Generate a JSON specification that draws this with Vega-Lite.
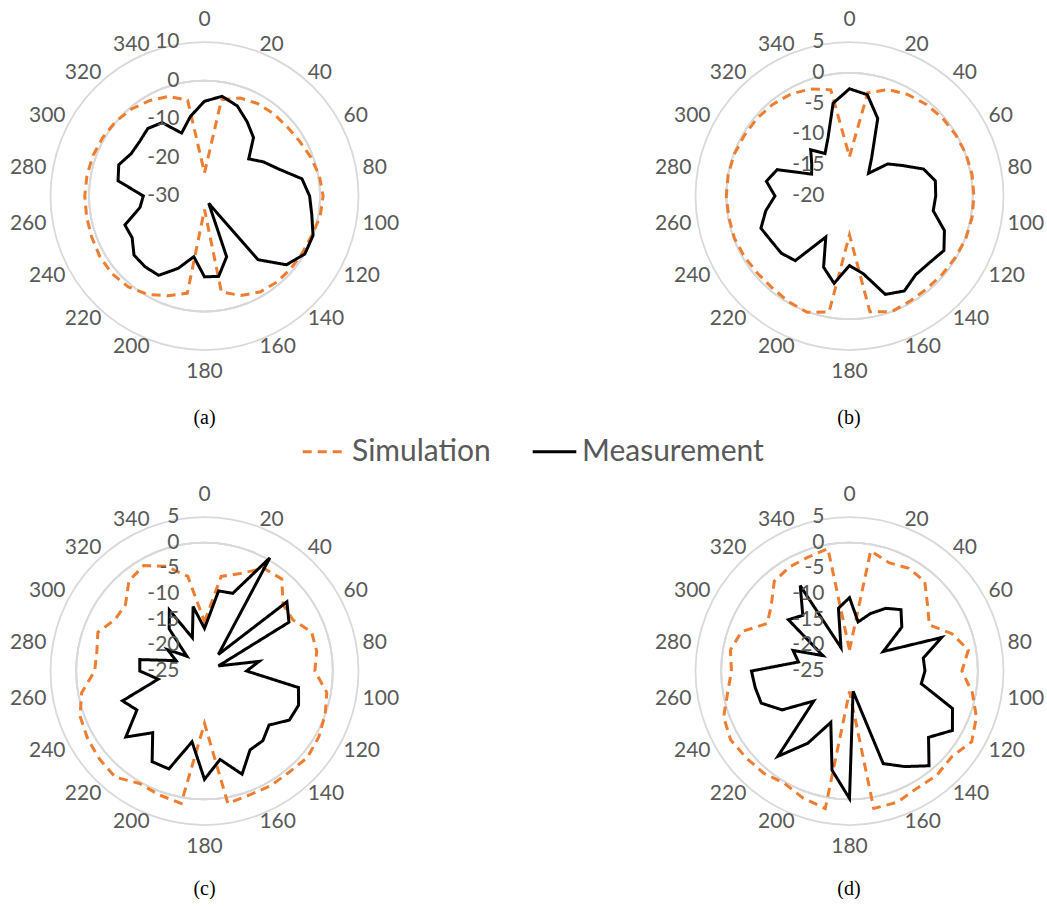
{
  "$schema": "https://vega.github.io/schema/vega-lite/v6.json",
  "padding": 0,
  "background": "white",
  "config": {"view": {"stroke": null}, "text": {"font": "Lato", "fontSize": 21, "color": "#595959"}},
  "datasets": {
    "rings": [
      {"p": "a", "level": -30}, {"p": "a", "level": -20}, {"p": "a", "level": -10}, {"p": "a", "level": 0}, {"p": "a", "level": 10},
      {"p": "b", "level": -20}, {"p": "b", "level": -15}, {"p": "b", "level": -10}, {"p": "b", "level": -5}, {"p": "b", "level": 0}, {"p": "b", "level": 5},
      {"p": "c", "level": -25}, {"p": "c", "level": -20}, {"p": "c", "level": -15}, {"p": "c", "level": -10}, {"p": "c", "level": -5}, {"p": "c", "level": 0}, {"p": "c", "level": 5},
      {"p": "d", "level": -25}, {"p": "d", "level": -20}, {"p": "d", "level": -15}, {"p": "d", "level": -10}, {"p": "d", "level": -5}, {"p": "d", "level": 0}, {"p": "d", "level": 5}
    ],
    "angles": [
      {"ang": 0}, {"ang": 20}, {"ang": 40}, {"ang": 60}, {"ang": 80}, {"ang": 100}, {"ang": 120}, {"ang": 140}, {"ang": 160},
      {"ang": 180}, {"ang": 200}, {"ang": 220}, {"ang": 240}, {"ang": 260}, {"ang": 280}, {"ang": 300}, {"ang": 320}, {"ang": 340}
    ],
    "pattern": [
      {"p":"a","ang":0,"Simulation":-24,"Measurement":-5.4},
      {"p":"a","ang":10,"Simulation":-4.6,"Measurement":-3.7},
      {"p":"a","ang":20,"Simulation":-2.9,"Measurement":-5.1},
      {"p":"a","ang":30,"Simulation":-2.3,"Measurement":-7.8},
      {"p":"a","ang":40,"Simulation":-2.1,"Measurement":-10.2},
      {"p":"a","ang":50,"Simulation":-2.0,"Measurement":-15.0},
      {"p":"a","ang":60,"Simulation":-1.5,"Measurement":-12.3},
      {"p":"a","ang":70,"Simulation":-0.6,"Measurement":-9.5},
      {"p":"a","ang":80,"Simulation":0.3,"Measurement":-4.3},
      {"p":"a","ang":90,"Simulation":0.8,"Measurement":-2.7},
      {"p":"a","ang":100,"Simulation":0.5,"Measurement":-1.7},
      {"p":"a","ang":110,"Simulation":-0.3,"Measurement":0.0},
      {"p":"a","ang":120,"Simulation":-0.6,"Measurement":0.1},
      {"p":"a","ang":130,"Simulation":-0.7,"Measurement":-2.2},
      {"p":"a","ang":140,"Simulation":-0.8,"Measurement":-8.4},
      {"p":"a","ang":150,"Simulation":-1.2,"Measurement":-27.8},
      {"p":"a","ang":160,"Simulation":-2.5,"Measurement":-13.2},
      {"p":"a","ang":170,"Simulation":-4.7,"Measurement":-8.8},
      {"p":"a","ang":180,"Simulation":-26.5,"Measurement":-9.0},
      {"p":"a","ang":190,"Simulation":-4.4,"Measurement":-14.0},
      {"p":"a","ang":200,"Simulation":-2.4,"Measurement":-10.0},
      {"p":"a","ang":210,"Simulation":-0.5,"Measurement":-6.2},
      {"p":"a","ang":220,"Simulation":0.8,"Measurement":-6.0},
      {"p":"a","ang":230,"Simulation":1.4,"Measurement":-6.1},
      {"p":"a","ang":240,"Simulation":1.4,"Measurement":-8.3},
      {"p":"a","ang":250,"Simulation":1.2,"Measurement":-8.0},
      {"p":"a","ang":260,"Simulation":1.1,"Measurement":-13.0},
      {"p":"a","ang":270,"Simulation":1.1,"Measurement":-14.1},
      {"p":"a","ang":280,"Simulation":1.0,"Measurement":-7.2},
      {"p":"a","ang":290,"Simulation":0.8,"Measurement":-6.3},
      {"p":"a","ang":300,"Simulation":0.5,"Measurement":-8.0},
      {"p":"a","ang":310,"Simulation":0.1,"Measurement":-8.0},
      {"p":"a","ang":320,"Simulation":-0.5,"Measurement":-7.1},
      {"p":"a","ang":330,"Simulation":-1.4,"Measurement":-8.0},
      {"p":"a","ang":340,"Simulation":-2.5,"Measurement":-12.6},
      {"p":"a","ang":350,"Simulation":-4.7,"Measurement":-9.0},

      {"p":"b","ang":0,"Simulation":-13.6,"Measurement":-2.6},
      {"p":"b","ang":10,"Simulation":-3.0,"Measurement":-3.3},
      {"p":"b","ang":20,"Simulation":-1.6,"Measurement":-6.6},
      {"p":"b","ang":30,"Simulation":-1.0,"Measurement":-12.8},
      {"p":"b","ang":40,"Simulation":-0.6,"Measurement":-15.2},
      {"p":"b","ang":50,"Simulation":-0.3,"Measurement":-11.9},
      {"p":"b","ang":60,"Simulation":-0.1,"Measurement":-10.1},
      {"p":"b","ang":70,"Simulation":0.1,"Measurement":-7.2},
      {"p":"b","ang":80,"Simulation":0.2,"Measurement":-5.85},
      {"p":"b","ang":90,"Simulation":0.2,"Measurement":-6.0},
      {"p":"b","ang":100,"Simulation":0.2,"Measurement":-6.2},
      {"p":"b","ang":110,"Simulation":0.1,"Measurement":-3.6},
      {"p":"b","ang":120,"Simulation":-0.1,"Measurement":-2.3},
      {"p":"b","ang":130,"Simulation":-0.3,"Measurement":-3.1},
      {"p":"b","ang":140,"Simulation":-0.4,"Measurement":-3.3},
      {"p":"b","ang":150,"Simulation":-0.3,"Measurement":-2.2},
      {"p":"b","ang":160,"Simulation":0.0,"Measurement":-3.0},
      {"p":"b","ang":170,"Simulation":-0.9,"Measurement":-7.2},
      {"p":"b","ang":180,"Simulation":-13.7,"Measurement":-8.7},
      {"p":"b","ang":190,"Simulation":-0.9,"Measurement":-5.6},
      {"p":"b","ang":200,"Simulation":0.1,"Measurement":-7.7},
      {"p":"b","ang":210,"Simulation":-0.2,"Measurement":-12.3},
      {"p":"b","ang":220,"Simulation":-0.5,"Measurement":-6.3},
      {"p":"b","ang":230,"Simulation":-0.5,"Measurement":-5.55},
      {"p":"b","ang":240,"Simulation":-0.3,"Measurement":-5.35},
      {"p":"b","ang":250,"Simulation":-0.1,"Measurement":-4.7},
      {"p":"b","ang":260,"Simulation":-0.1,"Measurement":-6.2},
      {"p":"b","ang":270,"Simulation":0.0,"Measurement":-7.9},
      {"p":"b","ang":280,"Simulation":0.0,"Measurement":-6.3},
      {"p":"b","ang":290,"Simulation":-0.1,"Measurement":-7.5},
      {"p":"b","ang":300,"Simulation":-0.3,"Measurement":-12.9},
      {"p":"b","ang":310,"Simulation":-0.4,"Measurement":-12.0},
      {"p":"b","ang":320,"Simulation":-0.6,"Measurement":-10.2},
      {"p":"b","ang":330,"Simulation":-0.9,"Measurement":-12.05},
      {"p":"b","ang":340,"Simulation":-1.5,"Measurement":-9.85},
      {"p":"b","ang":350,"Simulation":-2.5,"Measurement":-4.7},

      {"p":"c","ang":0,"Simulation":-15.4,"Measurement":-16.7},
      {"p":"c","ang":10,"Simulation":-6.3,"Measurement":-9.15},
      {"p":"c","ang":20,"Simulation":-4.8,"Measurement":-8.9},
      {"p":"c","ang":30,"Simulation":-1.9,"Measurement":0.45},
      {"p":"c","ang":40,"Simulation":-1.6,"Measurement":-20.8},
      {"p":"c","ang":50,"Simulation":-5.0,"Measurement":-4.05},
      {"p":"c","ang":60,"Simulation":-5.1,"Measurement":-6.0},
      {"p":"c","ang":70,"Simulation":-2.8,"Measurement":-22.1},
      {"p":"c","ang":80,"Simulation":-2.8,"Measurement":-14.2},
      {"p":"c","ang":90,"Simulation":-3.5,"Measurement":-16.8},
      {"p":"c","ang":100,"Simulation":-0.8,"Measurement":-6.4},
      {"p":"c","ang":110,"Simulation":0.0,"Measurement":-5.5},
      {"p":"c","ang":120,"Simulation":0.7,"Measurement":-5.9},
      {"p":"c","ang":130,"Simulation":1.2,"Measurement":-8.6},
      {"p":"c","ang":140,"Simulation":0.7,"Measurement":-7.3},
      {"p":"c","ang":150,"Simulation":0.8,"Measurement":-7.25},
      {"p":"c","ang":160,"Simulation":0.7,"Measurement":-3.6},
      {"p":"c","ang":170,"Simulation":1.2,"Measurement":-7.5},
      {"p":"c","ang":180,"Simulation":-14.8,"Measurement":-3.9},
      {"p":"c","ang":190,"Simulation":1.2,"Measurement":-11.0},
      {"p":"c","ang":200,"Simulation":0.7,"Measurement":-4.7},
      {"p":"c","ang":210,"Simulation":0.3,"Measurement":-4.6},
      {"p":"c","ang":220,"Simulation":2.0,"Measurement":-9.3},
      {"p":"c","ang":230,"Simulation":1.7,"Measurement":-5.0},
      {"p":"c","ang":240,"Simulation":1.3,"Measurement":-9.8},
      {"p":"c","ang":250,"Simulation":0.8,"Measurement":-8.0},
      {"p":"c","ang":260,"Simulation":-0.7,"Measurement":-15.85},
      {"p":"c","ang":270,"Simulation":-3.6,"Measurement":-12.4},
      {"p":"c","ang":280,"Simulation":-3.7,"Measurement":-12.2},
      {"p":"c","ang":290,"Simulation":-2.9,"Measurement":-19.1},
      {"p":"c","ang":300,"Simulation":-4.9,"Measurement":-16.7},
      {"p":"c","ang":310,"Simulation":-4.9,"Measurement":-20.5},
      {"p":"c","ang":320,"Simulation":-2.1,"Measurement":-14.3},
      {"p":"c","ang":330,"Simulation":-1.3,"Measurement":-11.3},
      {"p":"c","ang":340,"Simulation":-3.3,"Measurement":-18.1},
      {"p":"c","ang":350,"Simulation":-6.3,"Measurement":-12.25},

      {"p":"d","ang":0,"Simulation":-20.9,"Measurement":-10.7},
      {"p":"d","ang":10,"Simulation":-1.25,"Measurement":-15.3},
      {"p":"d","ang":20,"Simulation":-2.55,"Measurement":-13.1},
      {"p":"d","ang":30,"Simulation":-1.9,"Measurement":-10.9},
      {"p":"d","ang":40,"Simulation":-2.2,"Measurement":-9.4},
      {"p":"d","ang":50,"Simulation":-5.15,"Measurement":-11.7},
      {"p":"d","ang":60,"Simulation":-7.05,"Measurement":-17.4},
      {"p":"d","ang":70,"Simulation":-3.75,"Measurement":-5.9},
      {"p":"d","ang":80,"Simulation":-1.5,"Measurement":-10.4},
      {"p":"d","ang":90,"Simulation":-3.1,"Measurement":-10.3},
      {"p":"d","ang":100,"Simulation":-0.7,"Measurement":-10.8},
      {"p":"d","ang":110,"Simulation":1.3,"Measurement":-3.65},
      {"p":"d","ang":120,"Simulation":2.5,"Measurement":-1.85},
      {"p":"d","ang":130,"Simulation":1.0,"Measurement":-4.9},
      {"p":"d","ang":140,"Simulation":1.5,"Measurement":-0.9},
      {"p":"d","ang":150,"Simulation":1.35,"Measurement":-3.5},
      {"p":"d","ang":160,"Simulation":2.2,"Measurement":-5.8},
      {"p":"d","ang":170,"Simulation":2.2,"Measurement":-21.0},
      {"p":"d","ang":180,"Simulation":-21.0,"Measurement":-0.15},
      {"p":"d","ang":190,"Simulation":2.2,"Measurement":-5.4},
      {"p":"d","ang":200,"Simulation":1.35,"Measurement":-14.35},
      {"p":"d","ang":210,"Simulation":0.3,"Measurement":-8.75},
      {"p":"d","ang":220,"Simulation":1.0,"Measurement":-3.3},
      {"p":"d","ang":230,"Simulation":1.3,"Measurement":-15.9},
      {"p":"d","ang":240,"Simulation":1.75,"Measurement":-9.85},
      {"p":"d","ang":250,"Simulation":1.1,"Measurement":-6.7},
      {"p":"d","ang":260,"Simulation":-0.9,"Measurement":-6.35},
      {"p":"d","ang":270,"Simulation":-2.0,"Measurement":-5.9},
      {"p":"d","ang":280,"Simulation":-1.45,"Measurement":-14.9},
      {"p":"d","ang":290,"Simulation":-2.6,"Measurement":-13.3},
      {"p":"d","ang":300,"Simulation":-6.5,"Measurement":-19.0},
      {"p":"d","ang":310,"Simulation":-5.1,"Measurement":-9.45},
      {"p":"d","ang":320,"Simulation":-2.2,"Measurement":-10.85},
      {"p":"d","ang":330,"Simulation":-1.6,"Measurement":-5.8},
      {"p":"d","ang":340,"Simulation":-1.4,"Measurement":-20.15},
      {"p":"d","ang":350,"Simulation":-0.8,"Measurement":-12.6}
    ]
  },
  "columns": 2,
  "spacing": {"row": 83, "column": 236},
  "bounds": "flush",
  "resolve": {"scale": {"radius": "independent", "theta": "independent", "x": "independent", "y": "independent"}},
  "concat": [
    {
      "width": 409, "height": 392,
      "title": {"text": "(a)", "orient": "bottom", "offset": 16, "font": "Liberation Serif", "fontSize": 20, "fontWeight": "normal", "color": "#000000", "anchor": "middle"},
      "layer": [
        {"data": {"name": "rings"}, "transform": [{"filter": "datum.p == 'a'"}],
         "mark": {"type": "arc", "filled": false, "stroke": "#d9d9d9", "strokeWidth": 1.75},
         "encoding": {
           "x": {"datum": 0, "type": "quantitative", "scale": {"domain": [-53.117, 53.117], "nice": false, "zero": false}, "axis": null},
           "y": {"datum": 0, "type": "quantitative", "scale": {"domain": [-50.909, 50.909], "nice": false, "zero": false}, "axis": null},
           "radius": {"field": "level", "type": "quantitative", "scale": {"type": "linear", "domain": [-30, 10], "range": [0, 154], "zero": false, "nice": false}}}},
        {"data": {"name": "angles"}, "transform": [{"filter": "datum.ang > 0 && datum.ang < 180"}],
         "mark": {"type": "text", "radius": 160.5, "align": "left", "baseline": "middle"},
         "encoding": {"x": {"datum": 0, "type": "quantitative"}, "y": {"datum": 0, "type": "quantitative"},
           "theta": {"field": "ang", "type": "quantitative", "stack": null, "scale": {"domain": [0, 360], "range": [0, 6.283185307179586]}},
           "text": {"field": "ang", "type": "nominal"}}},
        {"data": {"name": "angles"}, "transform": [{"filter": "datum.ang > 180"}],
         "mark": {"type": "text", "radius": 160.5, "align": "right", "baseline": "middle"},
         "encoding": {"x": {"datum": 0, "type": "quantitative"}, "y": {"datum": 0, "type": "quantitative"},
           "theta": {"field": "ang", "type": "quantitative", "stack": null, "scale": {"domain": [0, 360], "range": [0, 6.283185307179586]}},
           "text": {"field": "ang", "type": "nominal"}}},
        {"data": {"name": "angles"}, "transform": [{"filter": "datum.ang == 0 || datum.ang == 180"}],
         "mark": {"type": "text", "radius": 176, "align": "center", "baseline": "middle"},
         "encoding": {"x": {"datum": 0, "type": "quantitative"}, "y": {"datum": 0, "type": "quantitative"},
           "theta": {"field": "ang", "type": "quantitative", "stack": null, "scale": {"domain": [0, 360], "range": [0, 6.283185307179586]}},
           "text": {"field": "ang", "type": "nominal"}}},
        {"data": {"name": "pattern"},
         "transform": [
           {"filter": "datum.p == 'a'"},
           {"fold": ["Simulation", "Measurement"], "as": ["s", "dB"]},
           {"calculate": "(datum.dB + 30) * sin(datum.ang * PI / 180)", "as": "px"},
           {"calculate": "(datum.dB + 30) * cos(datum.ang * PI / 180)", "as": "py"}],
         "mark": {"type": "line", "interpolate": "linear-closed", "strokeWidth": 3},
         "encoding": {
           "x": {"field": "px", "type": "quantitative"},
           "y": {"field": "py", "type": "quantitative"},
           "order": {"field": "ang", "type": "quantitative"},
           "color": {"field": "s", "type": "nominal", "scale": {"domain": ["Simulation", "Measurement"], "range": ["#ed7d31", "#000000"]},
             "legend": {"orient": "none", "legendX": 301, "legendY": 428, "direction": "horizontal", "title": null, "symbolType": "stroke", "symbolSize": 1900, "symbolStrokeWidth": 3, "labelFont": "Lato", "labelFontSize": 30, "labelColor": "#595959", "labelOffset": 4, "columnPadding": 35, "padding": 0, "labelLimit": 0}},
           "strokeDash": {"field": "s", "type": "nominal", "scale": {"domain": ["Simulation", "Measurement"], "range": [[9, 6], [1, 0]]},
             "legend": {"orient": "none", "legendX": 301, "legendY": 428, "direction": "horizontal", "title": null, "symbolType": "stroke", "symbolSize": 1900, "symbolStrokeWidth": 3, "labelFont": "Lato", "labelFontSize": 30, "labelColor": "#595959", "labelOffset": 4, "columnPadding": 35, "padding": 0, "labelLimit": 0}}}},
        {"data": {"name": "rings"}, "transform": [{"filter": "datum.p == 'a'"}],
         "mark": {"type": "text", "theta": 0, "align": "right", "baseline": "middle", "dx": -25},
         "encoding": {"x": {"datum": 0, "type": "quantitative"}, "y": {"datum": 0, "type": "quantitative"},
           "radius": {"field": "level", "type": "quantitative"},
           "text": {"field": "level", "type": "nominal"}}}
      ]
    },
    {
      "width": 402, "height": 392,
      "title": {"text": "(b)", "orient": "bottom", "offset": 16, "dx": 3, "font": "Liberation Serif", "fontSize": 20, "fontWeight": "normal", "color": "#000000", "anchor": "middle"},
      "layer": [
        {"data": {"name": "rings"}, "transform": [{"filter": "datum.p == 'b'"}],
         "mark": {"type": "arc", "filled": false, "stroke": "#d9d9d9", "strokeWidth": 1.75},
         "encoding": {
           "x": {"datum": 0, "type": "quantitative", "scale": {"domain": [-33.198, 32.062], "nice": false, "zero": false}, "axis": null},
           "y": {"datum": 0, "type": "quantitative", "scale": {"domain": [-31.818, 31.818], "nice": false, "zero": false}, "axis": null},
           "radius": {"field": "level", "type": "quantitative", "scale": {"type": "linear", "domain": [-20, 5], "range": [0, 154], "zero": false, "nice": false}}}},
        {"data": {"name": "angles"}, "transform": [{"filter": "datum.ang > 0 && datum.ang < 180"}],
         "mark": {"type": "text", "radius": 160.5, "align": "left", "baseline": "middle"},
         "encoding": {"x": {"datum": 0, "type": "quantitative"}, "y": {"datum": 0, "type": "quantitative"},
           "theta": {"field": "ang", "type": "quantitative", "stack": null, "scale": {"domain": [0, 360], "range": [0, 6.283185307179586]}},
           "text": {"field": "ang", "type": "nominal"}}},
        {"data": {"name": "angles"}, "transform": [{"filter": "datum.ang > 180"}],
         "mark": {"type": "text", "radius": 160.5, "align": "right", "baseline": "middle"},
         "encoding": {"x": {"datum": 0, "type": "quantitative"}, "y": {"datum": 0, "type": "quantitative"},
           "theta": {"field": "ang", "type": "quantitative", "stack": null, "scale": {"domain": [0, 360], "range": [0, 6.283185307179586]}},
           "text": {"field": "ang", "type": "nominal"}}},
        {"data": {"name": "angles"}, "transform": [{"filter": "datum.ang == 0 || datum.ang == 180"}],
         "mark": {"type": "text", "radius": 176, "align": "center", "baseline": "middle"},
         "encoding": {"x": {"datum": 0, "type": "quantitative"}, "y": {"datum": 0, "type": "quantitative"},
           "theta": {"field": "ang", "type": "quantitative", "stack": null, "scale": {"domain": [0, 360], "range": [0, 6.283185307179586]}},
           "text": {"field": "ang", "type": "nominal"}}},
        {"data": {"name": "pattern"},
         "transform": [
           {"filter": "datum.p == 'b'"},
           {"fold": ["Simulation", "Measurement"], "as": ["s", "dB"]},
           {"calculate": "(datum.dB + 20) * sin(datum.ang * PI / 180)", "as": "px"},
           {"calculate": "(datum.dB + 20) * cos(datum.ang * PI / 180)", "as": "py"}],
         "mark": {"type": "line", "interpolate": "linear-closed", "strokeWidth": 3},
         "encoding": {
           "x": {"field": "px", "type": "quantitative"},
           "y": {"field": "py", "type": "quantitative"},
           "order": {"field": "ang", "type": "quantitative"},
           "color": {"field": "s", "type": "nominal", "scale": {"domain": ["Simulation", "Measurement"], "range": ["#ed7d31", "#000000"]},
             "legend": {"orient": "none", "legendX": 301, "legendY": 428, "direction": "horizontal", "title": null, "symbolType": "stroke", "symbolSize": 1900, "symbolStrokeWidth": 3, "labelFont": "Lato", "labelFontSize": 30, "labelColor": "#595959", "labelOffset": 4, "columnPadding": 35, "padding": 0, "labelLimit": 0}},
           "strokeDash": {"field": "s", "type": "nominal", "scale": {"domain": ["Simulation", "Measurement"], "range": [[9, 6], [1, 0]]},
             "legend": {"orient": "none", "legendX": 301, "legendY": 428, "direction": "horizontal", "title": null, "symbolType": "stroke", "symbolSize": 1900, "symbolStrokeWidth": 3, "labelFont": "Lato", "labelFontSize": 30, "labelColor": "#595959", "labelOffset": 4, "columnPadding": 35, "padding": 0, "labelLimit": 0}}}},
        {"data": {"name": "rings"}, "transform": [{"filter": "datum.p == 'b'"}],
         "mark": {"type": "text", "theta": 0, "align": "right", "baseline": "middle", "dx": -25},
         "encoding": {"x": {"datum": 0, "type": "quantitative"}, "y": {"datum": 0, "type": "quantitative"},
           "radius": {"field": "level", "type": "quantitative"},
           "text": {"field": "level", "type": "nominal"}}}
      ]
    },
    {
      "width": 409, "height": 392,
      "title": {"text": "(c)", "orient": "bottom", "offset": 12, "font": "Liberation Serif", "fontSize": 20, "fontWeight": "normal", "color": "#000000", "anchor": "middle"},
      "layer": [
        {"data": {"name": "rings"}, "transform": [{"filter": "datum.p == 'c'"}],
         "mark": {"type": "arc", "filled": false, "stroke": "#d9d9d9", "strokeWidth": 1.75},
         "encoding": {
           "x": {"datum": 0, "type": "quantitative", "scale": {"domain": [-39.838, 39.838], "nice": false, "zero": false}, "axis": null},
           "y": {"datum": 0, "type": "quantitative", "scale": {"domain": [-38.182, 38.182], "nice": false, "zero": false}, "axis": null},
           "radius": {"field": "level", "type": "quantitative", "scale": {"type": "linear", "domain": [-25, 5], "range": [0, 154], "zero": false, "nice": false}}}},
        {"data": {"name": "angles"}, "transform": [{"filter": "datum.ang > 0 && datum.ang < 180"}],
         "mark": {"type": "text", "radius": 160.5, "align": "left", "baseline": "middle"},
         "encoding": {"x": {"datum": 0, "type": "quantitative"}, "y": {"datum": 0, "type": "quantitative"},
           "theta": {"field": "ang", "type": "quantitative", "stack": null, "scale": {"domain": [0, 360], "range": [0, 6.283185307179586]}},
           "text": {"field": "ang", "type": "nominal"}}},
        {"data": {"name": "angles"}, "transform": [{"filter": "datum.ang > 180"}],
         "mark": {"type": "text", "radius": 160.5, "align": "right", "baseline": "middle"},
         "encoding": {"x": {"datum": 0, "type": "quantitative"}, "y": {"datum": 0, "type": "quantitative"},
           "theta": {"field": "ang", "type": "quantitative", "stack": null, "scale": {"domain": [0, 360], "range": [0, 6.283185307179586]}},
           "text": {"field": "ang", "type": "nominal"}}},
        {"data": {"name": "angles"}, "transform": [{"filter": "datum.ang == 0 || datum.ang == 180"}],
         "mark": {"type": "text", "radius": 176, "align": "center", "baseline": "middle"},
         "encoding": {"x": {"datum": 0, "type": "quantitative"}, "y": {"datum": 0, "type": "quantitative"},
           "theta": {"field": "ang", "type": "quantitative", "stack": null, "scale": {"domain": [0, 360], "range": [0, 6.283185307179586]}},
           "text": {"field": "ang", "type": "nominal"}}},
        {"data": {"name": "pattern"},
         "transform": [
           {"filter": "datum.p == 'c'"},
           {"fold": ["Simulation", "Measurement"], "as": ["s", "dB"]},
           {"calculate": "(datum.dB + 25) * sin(datum.ang * PI / 180)", "as": "px"},
           {"calculate": "(datum.dB + 25) * cos(datum.ang * PI / 180)", "as": "py"}],
         "mark": {"type": "line", "interpolate": "linear-closed", "strokeWidth": 3},
         "encoding": {
           "x": {"field": "px", "type": "quantitative"},
           "y": {"field": "py", "type": "quantitative"},
           "order": {"field": "ang", "type": "quantitative"},
           "color": {"field": "s", "type": "nominal", "scale": {"domain": ["Simulation", "Measurement"], "range": ["#ed7d31", "#000000"]},
             "legend": {"orient": "none", "legendX": 301, "legendY": 428, "direction": "horizontal", "title": null, "symbolType": "stroke", "symbolSize": 1900, "symbolStrokeWidth": 3, "labelFont": "Lato", "labelFontSize": 30, "labelColor": "#595959", "labelOffset": 4, "columnPadding": 35, "padding": 0, "labelLimit": 0}},
           "strokeDash": {"field": "s", "type": "nominal", "scale": {"domain": ["Simulation", "Measurement"], "range": [[9, 6], [1, 0]]},
             "legend": {"orient": "none", "legendX": 301, "legendY": 428, "direction": "horizontal", "title": null, "symbolType": "stroke", "symbolSize": 1900, "symbolStrokeWidth": 3, "labelFont": "Lato", "labelFontSize": 30, "labelColor": "#595959", "labelOffset": 4, "columnPadding": 35, "padding": 0, "labelLimit": 0}}}},
        {"data": {"name": "rings"}, "transform": [{"filter": "datum.p == 'c'"}],
         "mark": {"type": "text", "theta": 0, "align": "right", "baseline": "middle", "dx": -25},
         "encoding": {"x": {"datum": 0, "type": "quantitative"}, "y": {"datum": 0, "type": "quantitative"},
           "radius": {"field": "level", "type": "quantitative"},
           "text": {"field": "level", "type": "nominal"}}}
      ]
    },
    {
      "width": 402, "height": 392,
      "title": {"text": "(d)", "orient": "bottom", "offset": 12, "dx": 3, "font": "Liberation Serif", "fontSize": 20, "fontWeight": "normal", "color": "#000000", "anchor": "middle"},
      "layer": [
        {"data": {"name": "rings"}, "transform": [{"filter": "datum.p == 'd'"}],
         "mark": {"type": "arc", "filled": false, "stroke": "#d9d9d9", "strokeWidth": 1.75},
         "encoding": {
           "x": {"datum": 0, "type": "quantitative", "scale": {"domain": [-39.838, 38.474], "nice": false, "zero": false}, "axis": null},
           "y": {"datum": 0, "type": "quantitative", "scale": {"domain": [-38.182, 38.182], "nice": false, "zero": false}, "axis": null},
           "radius": {"field": "level", "type": "quantitative", "scale": {"type": "linear", "domain": [-25, 5], "range": [0, 154], "zero": false, "nice": false}}}},
        {"data": {"name": "angles"}, "transform": [{"filter": "datum.ang > 0 && datum.ang < 180"}],
         "mark": {"type": "text", "radius": 160.5, "align": "left", "baseline": "middle"},
         "encoding": {"x": {"datum": 0, "type": "quantitative"}, "y": {"datum": 0, "type": "quantitative"},
           "theta": {"field": "ang", "type": "quantitative", "stack": null, "scale": {"domain": [0, 360], "range": [0, 6.283185307179586]}},
           "text": {"field": "ang", "type": "nominal"}}},
        {"data": {"name": "angles"}, "transform": [{"filter": "datum.ang > 180"}],
         "mark": {"type": "text", "radius": 160.5, "align": "right", "baseline": "middle"},
         "encoding": {"x": {"datum": 0, "type": "quantitative"}, "y": {"datum": 0, "type": "quantitative"},
           "theta": {"field": "ang", "type": "quantitative", "stack": null, "scale": {"domain": [0, 360], "range": [0, 6.283185307179586]}},
           "text": {"field": "ang", "type": "nominal"}}},
        {"data": {"name": "angles"}, "transform": [{"filter": "datum.ang == 0 || datum.ang == 180"}],
         "mark": {"type": "text", "radius": 176, "align": "center", "baseline": "middle"},
         "encoding": {"x": {"datum": 0, "type": "quantitative"}, "y": {"datum": 0, "type": "quantitative"},
           "theta": {"field": "ang", "type": "quantitative", "stack": null, "scale": {"domain": [0, 360], "range": [0, 6.283185307179586]}},
           "text": {"field": "ang", "type": "nominal"}}},
        {"data": {"name": "pattern"},
         "transform": [
           {"filter": "datum.p == 'd'"},
           {"fold": ["Simulation", "Measurement"], "as": ["s", "dB"]},
           {"calculate": "(datum.dB + 25) * sin(datum.ang * PI / 180)", "as": "px"},
           {"calculate": "(datum.dB + 25) * cos(datum.ang * PI / 180)", "as": "py"}],
         "mark": {"type": "line", "interpolate": "linear-closed", "strokeWidth": 3},
         "encoding": {
           "x": {"field": "px", "type": "quantitative"},
           "y": {"field": "py", "type": "quantitative"},
           "order": {"field": "ang", "type": "quantitative"},
           "color": {"field": "s", "type": "nominal", "scale": {"domain": ["Simulation", "Measurement"], "range": ["#ed7d31", "#000000"]},
             "legend": {"orient": "none", "legendX": 301, "legendY": 428, "direction": "horizontal", "title": null, "symbolType": "stroke", "symbolSize": 1900, "symbolStrokeWidth": 3, "labelFont": "Lato", "labelFontSize": 30, "labelColor": "#595959", "labelOffset": 4, "columnPadding": 35, "padding": 0, "labelLimit": 0}},
           "strokeDash": {"field": "s", "type": "nominal", "scale": {"domain": ["Simulation", "Measurement"], "range": [[9, 6], [1, 0]]},
             "legend": {"orient": "none", "legendX": 301, "legendY": 428, "direction": "horizontal", "title": null, "symbolType": "stroke", "symbolSize": 1900, "symbolStrokeWidth": 3, "labelFont": "Lato", "labelFontSize": 30, "labelColor": "#595959", "labelOffset": 4, "columnPadding": 35, "padding": 0, "labelLimit": 0}}}},
        {"data": {"name": "rings"}, "transform": [{"filter": "datum.p == 'd'"}],
         "mark": {"type": "text", "theta": 0, "align": "right", "baseline": "middle", "dx": -25},
         "encoding": {"x": {"datum": 0, "type": "quantitative"}, "y": {"datum": 0, "type": "quantitative"},
           "radius": {"field": "level", "type": "quantitative"},
           "text": {"field": "level", "type": "nominal"}}}
      ]
    }
  ]
}
